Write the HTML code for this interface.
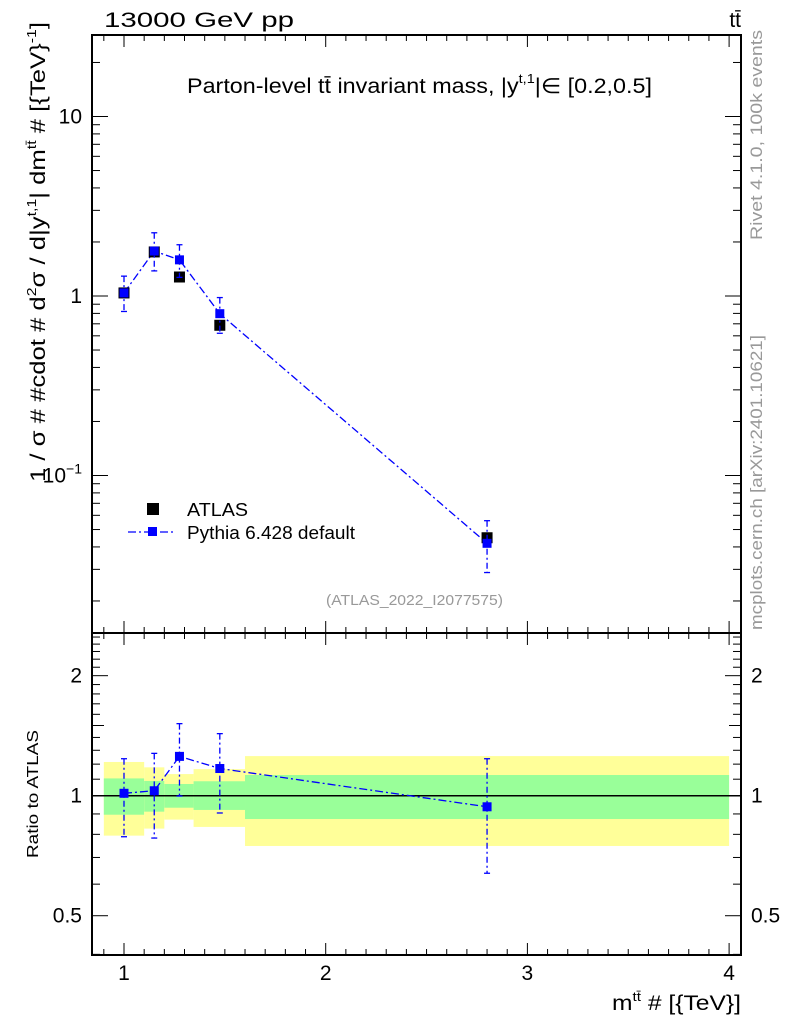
<!DOCTYPE html>
<html><head><meta charset="utf-8"><style>
body{margin:0;background:#fff}
svg{display:block;font-family:"Liberation Sans",sans-serif}
</style></head><body>
<svg id="c" width="786" height="1024" xmlns="http://www.w3.org/2000/svg"></svg>
<script>
const xCenters=[1.0,1.15,1.275,1.475,2.8];
const binEdges=[0.9,1.1,1.2,1.345,1.6,4.0];
const atlasVals=[1.04,1.76,1.276,0.687,0.045];
const pythiaVals=[1.04,1.78,1.59,0.797,0.0419];
const pythiaUp=[1.29,2.25,1.93,0.98,0.056];
const pythiaLo=[0.82,1.38,1.27,0.62,0.0288];
const ratioVals=[1.014,1.029,1.255,1.17,0.938];
const ratioUp=[1.238,1.277,1.516,1.431,1.238];
const ratioLo=[0.789,0.783,0.998,0.905,0.639];
const yellowUp=[1.215,1.178,1.133,1.166,1.257];
const yellowLo=[0.794,0.827,0.871,0.835,0.748];
const greenUp=[1.105,1.089,1.070,1.087,1.127];
const greenLo=[0.896,0.912,0.933,0.921,0.874];
const xTickLabels=["1","2","3","4"];

const S=document.getElementById('c');const NS='http://www.w3.org/2000/svg';
function el(t,a,p){const e=document.createElementNS(NS,t);for(const k in a)e.setAttribute(k,a[k]);(p||S).appendChild(e);return e;}
const L=92,R=741,T=35,M=633,B=955;
const X=v=>124+(v-1)*201.7;
const Y=v=>296-Math.log10(v)*179.5;
const RY=v=>795.7-Math.log10(v)*398.7;

for(let i=0;i<5;i++){
 let r=el('rect',{x:X(binEdges[i]),y:RY(yellowUp[i]),width:X(binEdges[i+1])-X(binEdges[i]),height:RY(yellowLo[i])-RY(yellowUp[i]),fill:'#ffff99'});
 
 let g=el('rect',{x:X(binEdges[i]),y:RY(greenUp[i]),width:X(binEdges[i+1])-X(binEdges[i]),height:RY(greenLo[i])-RY(greenUp[i]),fill:'#99ff99'});
 
}
el('line',{x1:L,x2:R,y1:RY(1),y2:RY(1),stroke:'#000','stroke-width':1.5});

let f1=el('rect',{x:L,y:T,width:R-L,height:M-T,fill:'none',stroke:'#000','stroke-width':2});

let f2=el('rect',{x:L,y:M,width:R-L,height:B-M,fill:'none',stroke:'#000','stroke-width':2});


for(let k=9;k<=40;k++){const v=k/10;const x=X(v);if(x<L||x>R)continue;const maj=k%10==0;const len=maj?12:6;
 for(const [yb,dir] of [[M,-1],[T,1],[B,-1],[M,1]]) el('line',{x1:x,x2:x,y1:yb,y2:yb+dir*len,stroke:'#000','stroke-width':1});}
xTickLabels.forEach((t,i)=>{let e=el('text',{x:X(i+1),y:980,'font-size':21,'text-anchor':'middle'});e.textContent=t;
 });

for(let d=-2;d<=1;d++)for(let m=1;m<=9;m++){const v=m*Math.pow(10,d);const y=Y(v);if(y<T||y>M)continue;const len=m==1?16:8;
 el('line',{x1:L,x2:L+len,y1:y,y2:y,stroke:'#000'});el('line',{x1:R,x2:R-len,y1:y,y2:y,stroke:'#000'});}
[["10",10],["1",1]].forEach(([t,v])=>{let e=el('text',{x:82,y:Y(v)+7,'font-size':21,'text-anchor':'end'});e.textContent=t;
 });
let e1=el('text',{x:82,y:Y(0.1)+7,'font-size':21,'text-anchor':'end'});e1.innerHTML='10<tspan font-size="14" dy="-9">−1</tspan>';


for(let k=4;k<=25;k++){const v=k/10;const y=RY(v);if(y<M||y>B)continue;const len=(k==5||k==10||k==20)?16:(k==15?12:8);
 el('line',{x1:L,x2:L+len,y1:y,y2:y,stroke:'#000'});el('line',{x1:R,x2:R-len,y1:y,y2:y,stroke:'#000'});}
[["2",2],["1",1],["0.5",0.5]].forEach(([t,v])=>{
 let a=el('text',{x:82,y:RY(v)+7,'font-size':21,'text-anchor':'end'});a.textContent=t;
 
 let b=el('text',{x:751,y:RY(v)+7,'font-size':21});b.textContent=t;
 });

el('polyline',{points:xCenters.map((x,i)=>X(x)+','+Y(pythiaVals[i])).join(' '),fill:'none',stroke:'#0000ff','stroke-width':1.3,'stroke-dasharray':'8,3,2,3'});
xCenters.forEach((x,i)=>{let r=el('rect',{x:X(x)-5.5,y:Y(atlasVals[i])-5.5,width:11,height:11,fill:'#000'});
 });
xCenters.forEach((x,i)=>{const cx=X(x);
 el('line',{x1:cx,x2:cx,y1:Y(pythiaUp[i]),y2:Y(pythiaLo[i]),stroke:'#0000ff','stroke-width':1.3,'stroke-dasharray':'6,3,2,3'});
 el('line',{x1:cx-3,x2:cx+3,y1:Y(pythiaUp[i]),y2:Y(pythiaUp[i]),stroke:'#0000ff','stroke-width':1.3});
 el('line',{x1:cx-3,x2:cx+3,y1:Y(pythiaLo[i]),y2:Y(pythiaLo[i]),stroke:'#0000ff','stroke-width':1.3});
 let r=el('rect',{x:cx-4.5,y:Y(pythiaVals[i])-4.5,width:9,height:9,fill:'#0000ff'});
 });

el('polyline',{points:xCenters.map((x,i)=>X(x)+','+RY(ratioVals[i])).join(' '),fill:'none',stroke:'#0000ff','stroke-width':1.3,'stroke-dasharray':'8,3,2,3'});
xCenters.forEach((x,i)=>{const cx=X(x);
 el('line',{x1:cx,x2:cx,y1:RY(ratioUp[i]),y2:RY(ratioLo[i]),stroke:'#0000ff','stroke-width':1.3,'stroke-dasharray':'6,3,2,3'});
 el('line',{x1:cx-3,x2:cx+3,y1:RY(ratioUp[i]),y2:RY(ratioUp[i]),stroke:'#0000ff','stroke-width':1.3});
 el('line',{x1:cx-3,x2:cx+3,y1:RY(ratioLo[i]),y2:RY(ratioLo[i]),stroke:'#0000ff','stroke-width':1.3});
 let r=el('rect',{x:cx-4.5,y:RY(ratioVals[i])-4.5,width:9,height:9,fill:'#0000ff'});
 });
</script>
<svg width="786" height="1024" style="position:absolute;left:0;top:0;font-family:'Liberation Sans',sans-serif" xmlns="http://www.w3.org/2000/svg">
 <text x="104" y="27" font-size="21" textLength="190" lengthAdjust="spacingAndGlyphs">13000 GeV pp</text>
 <text x="741" y="27" font-size="21" text-anchor="end">tt̄</text>
 <text x="187" y="93" font-size="21" textLength="465" lengthAdjust="spacingAndGlyphs">Parton-level tt̄ invariant mass, |y<tspan font-size="13" dy="-10">t,1</tspan><tspan dy="10">|∈ [0.2,0.5]</tspan></text>
 <rect x="147" y="503" width="12" height="12" fill="#000"/>
 <text x="187" y="516" font-size="18" textLength="61" lengthAdjust="spacingAndGlyphs">ATLAS</text>
 <line x1="128" x2="176" y1="532" y2="532" stroke="#0000ff" stroke-width="1.3" stroke-dasharray="8,3,2,3"/>
 <rect x="148" y="527" width="9" height="9" fill="#0000ff"/>
 <text x="187" y="539" font-size="18" textLength="168" lengthAdjust="spacingAndGlyphs">Pythia 6.428 default</text>
 <text x="326" y="605" font-size="15" fill="#999" textLength="177" lengthAdjust="spacingAndGlyphs">(ATLAS_2022_I2077575)</text>
 <text transform="translate(45,482) rotate(-90)" font-size="21" textLength="460" lengthAdjust="spacingAndGlyphs">1 / σ # #cdot # d<tspan font-size="13" dy="-9">2</tspan><tspan dy="9">σ / d|y</tspan><tspan font-size="13" dy="-9">t,1</tspan><tspan dy="9">| dm</tspan><tspan font-size="13" dy="-9">tt̄</tspan><tspan dy="9"> # [{TeV}</tspan><tspan font-size="13" dy="-9">-1</tspan><tspan dy="9">]</tspan></text>
 <text transform="translate(38,858) rotate(-90)" font-size="16" textLength="128" lengthAdjust="spacingAndGlyphs">Ratio to ATLAS</text>
 <text x="612" y="1010" font-size="21" textLength="129" lengthAdjust="spacingAndGlyphs">m<tspan font-size="13" dy="-9">tt̄</tspan><tspan dy="9"> # [{TeV}]</tspan></text>
 <text transform="translate(762,240) rotate(-90)" font-size="17" fill="#999" textLength="210" lengthAdjust="spacingAndGlyphs">Rivet 4.1.0,  100k events</text>
 <text transform="translate(762,630) rotate(-90)" font-size="17" fill="#999" textLength="295" lengthAdjust="spacingAndGlyphs">mcplots.cern.ch [arXiv:2401.10621]</text>
</svg>
</body></html>
